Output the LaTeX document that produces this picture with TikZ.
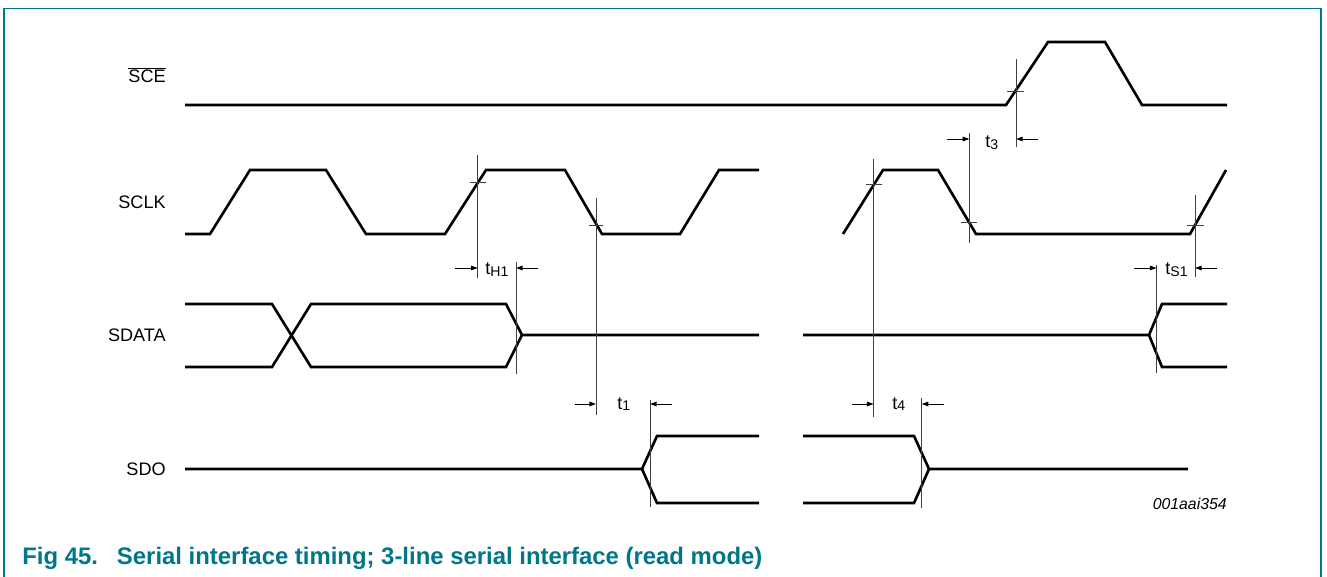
\documentclass[tikz,border=0pt]{standalone}
\usepackage{xcolor}
\usepackage{fontspec}
\setmainfont{Liberation Sans}
\usepackage{tikz}
\usetikzlibrary{arrows.meta}
\definecolor{figteal}{RGB}{0,118,138}

\begin{document}
\begin{tikzpicture}[x=0.02cm, y=-0.02cm,
    sig/.style={line width=1.5pt},
    guide/.style={line width=0.55pt, black!75},
    dim/.style={line width=0.55pt, -{Triangle[length=3.8pt,width=2.6pt]}},
    every node/.style={font=\fontsize{10.3}{12}\selectfont, inner sep=0pt}]

    \useasboundingbox (0,0) rectangle (1327,577);

    % Cornice
    \draw[figteal, line width=0.8pt] (4,577) -- (4,8.5) -- (1321,8.5) -- (1321,577);

    % Nomi dei segnali
    \node[anchor=base east] (sce) at (166,83) {$\overline{\mbox{SCE}}$};
    \node[anchor=base east] (sclk) at (166,209) {SCLK};
    \node[anchor=base east] (sdata) at (166,341) {SDATA};
    \node[anchor=base east] (sdo) at (166,475) {SDO};

    % SCE
    \draw[sig] (185,105) -- (1006,105) -- (1048,42) -- (1105,42) -- (1142,105) -- (1227,105);

    % SCLK
    \draw[sig] (185,234) -- (210,234) -- (250,170) -- (326,170) -- (366,234) -- (445,234)
        -- (486,170) -- (565,170) -- (602,234) -- (680,234) -- (719,170) -- (759,170);
    \draw[sig] (843,234) -- (883,170) -- (938,170) -- (976,234) -- (1190,234) -- (1226,170);

    % SDATA
    \draw[sig] (185,304) -- (272,304) -- (311,367) -- (506,367) -- (522,335) -- (759,335);
    \draw[sig] (185,367) -- (272,367) -- (311,304) -- (506,304) -- (522,335);
    \draw[sig] (803,335) -- (1149,335) -- (1162,304) -- (1227,304);
    \draw[sig] (1149,335) -- (1162,367) -- (1227,367);

    % SDO
    \draw[sig] (185,469) -- (642,469) -- (657,436) -- (759,436);
    \draw[sig] (642,469) -- (657,503) -- (759,503);
    \draw[sig] (803,436) -- (914,436) -- (929,469) -- (1188,469);
    \draw[sig] (803,503) -- (914,503) -- (929,469);

    % Linee di riferimento
    \draw[guide] (477.7,155) -- (477.7,278);  \draw[guide] (470,182.5) -- (486,182.5);
    \draw[guide] (596,198) -- (596,415);      \draw[guide] (589,225) -- (603,225);
    \draw[guide] (516,262) -- (516,374);
    \draw[guide] (650,400) -- (650,507);
    \draw[guide] (873.6,159) -- (873.6,417);  \draw[guide] (866,184) -- (882,184);
    \draw[guide] (969.4,133) -- (969.4,243);  \draw[guide] (961,222.5) -- (977,222.5);
    \draw[guide] (1016,59) -- (1016,147);     \draw[guide] (1007,91) -- (1024,91);
    \draw[guide] (1195,195) -- (1195,277);    \draw[guide] (1187,225) -- (1204,225);
    \draw[guide] (1156.6,265) -- (1156.6,373);
    \draw[guide] (921.7,398) -- (921.7,508);

    % Tempi
    \draw[dim] (455,268) -- (477.7,268);   \draw[dim] (538,268) -- (516,268);
    \node[anchor=base west] (tH1) at (485,275) {t\raisebox{-0.6pt}{\footnotesize H1}};
    \draw[dim] (947,139) -- (969.4,139);   \draw[dim] (1038,139) -- (1016,139);
    \node[anchor=base west] (t3) at (985,148) {t\raisebox{-0.6pt}{\footnotesize 3}};
    \draw[dim] (574.5,404) -- (596,404);   \draw[dim] (672,404) -- (650,404);
    \node[anchor=base west] (t1) at (617,409) {t\raisebox{-0.6pt}{\footnotesize 1}};
    \draw[dim] (851.5,404) -- (873.6,404); \draw[dim] (944,404) -- (921.7,404);
    \node[anchor=base west] (t4) at (892,409) {t\raisebox{-0.6pt}{\footnotesize 4}};
    \draw[dim] (1134,268) -- (1156.6,268); \draw[dim] (1217,268) -- (1195,268);
    \node[anchor=base west] (tS1) at (1165,275) {t\raisebox{-0.6pt}{\footnotesize S1}};

    % Codice e didascalia
    \node[anchor=base east, font=\itshape\fontsize{9}{10}\selectfont] (code) at (1227,509) {001aai354};
    \node[anchor=base west, text=figteal, font=\bfseries\fontsize{13.6}{15}\selectfont] (caption) at (22,564)
        {Fig 45.\hspace{10.8pt}Serial interface timing; 3-line serial interface (read mode)};
\end{tikzpicture}
\end{document}
